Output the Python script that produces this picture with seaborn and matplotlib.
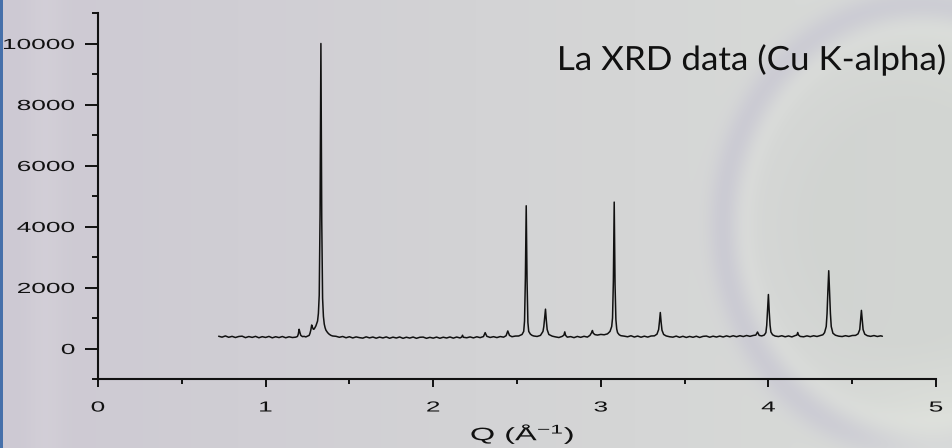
import numpy as np
import pandas as pd
import matplotlib
matplotlib.use("Agg")
import matplotlib.pyplot as plt
import seaborn as sns
from matplotlib import patheffects
from matplotlib.transforms import Affine2D
from matplotlib.ticker import MultipleLocator

# ---------------------------------------------------------------------------
# Powder pattern of La: momentum transfer Q (1/Angstrom) vs. detector counts
# ---------------------------------------------------------------------------
q_values = [
    0.72, 0.74, 0.76, 0.78, 0.80, 0.82, 0.84, 0.86, 0.88, 0.90, 0.92, 0.94,
    0.96, 0.98, 1.00, 1.02, 1.04, 1.06, 1.08, 1.10, 1.12, 1.14, 1.16,
    1.18, 1.19, 1.195, 1.20, 1.205, 1.21, 1.22, 1.23, 1.24, 1.25, 1.26, 1.265,
    1.27, 1.275, 1.28, 1.285, 1.29, 1.295, 1.30, 1.305, 1.31, 1.315, 1.32,
    1.325, 1.33, 1.335, 1.34, 1.345, 1.35, 1.355, 1.36, 1.37, 1.38, 1.39, 1.40,
    1.42, 1.44, 1.46, 1.48, 1.50, 1.52, 1.54, 1.56, 1.58, 1.60, 1.62, 1.64,
    1.66, 1.68, 1.70, 1.72, 1.74, 1.76, 1.78, 1.80, 1.82, 1.84, 1.86, 1.88,
    1.90, 1.92, 1.94, 1.96, 1.98, 2.00, 2.02, 2.04, 2.06, 2.08, 2.10, 2.12,
    2.14, 2.16,
    2.17, 2.175, 2.18, 2.20, 2.22, 2.24, 2.26, 2.28, 2.30, 2.31, 2.32, 2.34,
    2.36, 2.38, 2.40, 2.42, 2.435, 2.445, 2.455, 2.47, 2.49, 2.51, 2.53, 2.54,
    2.545, 2.55, 2.555, 2.56, 2.565, 2.57, 2.58, 2.59, 2.60,
    2.62, 2.64, 2.655, 2.66, 2.665, 2.67, 2.675, 2.68, 2.69, 2.71, 2.73, 2.75,
    2.77, 2.78, 2.785, 2.79, 2.80, 2.82, 2.84, 2.86, 2.88, 2.90, 2.92, 2.935,
    2.945, 2.95, 2.955, 2.965, 2.98, 3.00, 3.02, 3.04, 3.055, 3.065, 3.07,
    3.075, 3.08, 3.085, 3.09, 3.095, 3.10, 3.11, 3.12, 3.14,
    3.16, 3.18, 3.20, 3.22, 3.24, 3.26, 3.28, 3.30, 3.32, 3.335, 3.345, 3.35,
    3.355, 3.36, 3.365, 3.375, 3.39, 3.41, 3.43, 3.45, 3.47, 3.49, 3.51, 3.53,
    3.55, 3.57, 3.59, 3.61, 3.63, 3.65, 3.67, 3.69, 3.71, 3.73, 3.75, 3.77,
    3.79, 3.81, 3.83, 3.85, 3.87, 3.89, 3.91, 3.925,
    3.935, 3.945, 3.96, 3.975, 3.985, 3.99, 3.995, 4.00, 4.005, 4.01, 4.015,
    4.025, 4.04, 4.06, 4.08, 4.10, 4.12, 4.14, 4.16, 4.17, 4.175, 4.18, 4.19,
    4.21, 4.23, 4.25, 4.27, 4.29, 4.31, 4.325, 4.335, 4.345, 4.35, 4.355,
    4.36, 4.365, 4.37, 4.375, 4.385, 4.40, 4.42, 4.44, 4.46, 4.48, 4.50, 4.52,
    4.535, 4.545, 4.55, 4.555, 4.56, 4.565, 4.575, 4.59, 4.61, 4.63, 4.65,
    4.67, 4.68,
]

counts = [
    402, 372, 412, 368, 398, 360, 394, 404, 356, 392, 364, 398,
    352, 388, 362, 396, 350, 386, 358, 393, 352, 384, 360,
    372, 395, 470, 630, 520, 430, 390, 398, 380, 405, 430, 500,
    610, 770, 690, 630, 640, 690, 740, 820, 900, 1150, 1750,
    4400, 10000, 4200, 1650, 1050, 800, 680, 600, 520, 465, 430, 410,
    400, 368, 394, 352, 386, 346, 380, 356, 340, 382, 348, 376,
    338, 374, 346, 380, 336, 372, 344, 378, 334, 370, 342, 376,
    334, 368, 374, 334, 366, 340, 374, 336, 370, 344, 378, 340,
    376, 346,
    375, 435, 368, 352, 380, 348, 384, 356, 392, 520, 400, 362,
    388, 358, 392, 372, 420, 575, 430, 386, 408, 410, 460, 560,
    900, 2300, 4680, 2200, 850, 560, 470, 430, 410,
    395, 430, 560, 720, 1000, 1290, 920, 620, 460, 405, 380, 360,
    398, 440, 545, 430, 372, 390, 356, 396, 366, 400, 374, 430,
    520, 590, 500, 455, 440, 462, 450, 480, 560, 720, 1000,
    2200, 4800, 2100, 950, 640, 520, 450, 420, 405,
    384, 418, 376, 408, 370, 404, 374, 410, 415, 470, 620, 880,
    1180, 860, 600, 460, 412, 386, 372, 406, 366, 400, 362, 396,
    368, 402, 362, 398, 408, 370, 404, 376, 408, 378, 414, 384,
    418, 386, 420, 392, 426, 398, 428, 440,
    540, 430, 412, 440, 520, 760, 1250, 1770, 1200, 760, 540,
    450, 408, 392, 418, 384, 412, 380, 424, 440, 525, 440, 396,
    384, 414, 388, 418, 394, 426, 450, 520, 720, 1150, 1900,
    2550, 1850, 1150, 720, 500, 435, 404, 392, 420, 396, 426, 430,
    480, 620, 950, 1250, 930, 620, 470, 420, 398, 424, 394,
    416, 402,
]
assert len(q_values) == len(counts)

x_ticks = [0, 1, 2, 3, 4, 5]
y_ticks = [0, 2000, 4000, 6000, 8000, 10000]
x_limits = (0, 5)
y_limits = (-1000, 11000)
title_text = "La XRD data (Cu K-alpha)"
x_label = r"Q (Å$^{\mathrm{-1}}$)"


class HorizontalStretch(patheffects.AbstractPathEffect):
    """Draw a text path widened horizontally about a pivot of its ink box."""

    def __init__(self, factor, pivot=0.5):
        super().__init__()
        self.factor = factor
        self.pivot = pivot

    def draw_path(self, renderer, gc, tpath, affine, rgbFace=None):
        ext = tpath.get_extents()
        px = ext.x0 + self.pivot * ext.width
        widen = Affine2D().translate(-px, 0).scale(self.factor, 1.0).translate(px, 0)
        renderer.draw_path(gc, tpath, widen + affine, rgbFace)


sns.set_style("ticks")
plt.rcParams["font.family"] = ["Liberation Sans", "DejaVu Sans"]
plt.rcParams["mathtext.fontset"] = "custom"
plt.rcParams["mathtext.rm"] = "Liberation Sans"
plt.rcParams["mathtext.it"] = "Liberation Sans:italic"

W, H = 953, 448
fig = plt.figure(figsize=(W / 100, H / 100), dpi=100)

# soft slide backdrop: lavender-grey to pale grey-green with a faint violet arc
yy, xx = np.mgrid[0:H, 0:W].astype(float)
left_c = np.array([205, 201, 211]) / 255
mid_c = np.array([211, 211, 213]) / 255
right_c = np.array([217, 220, 216]) / 255
t = (xx / (W - 1))[..., None]
bg = np.where(t < 0.5,
              left_c + (mid_c - left_c) * (t / 0.5),
              mid_c + (right_c - mid_c) * ((t - 0.5) / 0.5))
streak = np.exp(-((xx - 45) / 18) ** 2)[..., None] * 0.5
bg = bg + (np.array([215, 211, 219]) / 255 - bg) * streak
# elliptical ring, centred off to the right
d = np.hypot((xx - 920) / 1.0, (yy - 225) / 1.12)
inside = (np.clip((185 - d) / 80, 0, 1) * 0.35)[..., None]
bg = bg + (np.array([199, 202, 200]) / 255 - bg) * inside
rim = (np.exp(-((d - 175) / 10) ** 2) * 0.25)[..., None]
bg = bg + (np.array([228, 230, 226]) / 255 - bg) * rim
band = (np.exp(-((d - 198) / 15) ** 2) * 0.35)[..., None]
bg = bg + (np.array([184, 180, 206]) / 255 - bg) * band
glow = (np.exp(-(((xx - 940) / 70) ** 2 + ((yy - 440) / 60) ** 2)) * 0.5)[..., None]
bg = bg + (np.array([226, 229, 222]) / 255 - bg) * glow
bg[:, :3] = np.array([70, 112, 170]) / 255
bg_ax = fig.add_axes([0, 0, 1, 1], zorder=-10)
bg_ax.imshow(np.clip(bg, 0, 1), extent=[0, W, H, 0], aspect="auto",
             interpolation="bilinear")
bg_ax.set_axis_off()

ax = fig.add_axes([98 / W, 69 / H, 838 / W, 366 / H])
ax.set_facecolor("none")

df = pd.DataFrame({"Q": q_values, "Intensity": counts})
sns.lineplot(data=df, x="Q", y="Intensity", ax=ax, color="#111111",
             linewidth=1.1, estimator=None, sort=False, legend=False)

ax.set_xlim(*x_limits)
ax.set_ylim(*y_limits)
ax.set_xticks(x_ticks)
ax.set_yticks(y_ticks)
ax.set_xticklabels([str(v) for v in x_ticks])
ax.set_yticklabels([str(v) for v in y_ticks])
ax.xaxis.set_minor_locator(MultipleLocator(0.5))
ax.yaxis.set_minor_locator(MultipleLocator(1000))

for side in ["top", "right"]:
    ax.spines[side].set_visible(False)
for side in ["left", "bottom"]:
    ax.spines[side].set_linewidth(1.5)
    ax.spines[side].set_color("#111111")

ax.tick_params(axis="y", which="major", length=9.5, width=1.4, pad=7,
               labelsize=10.5, colors="#111111", direction="out")
ax.tick_params(axis="y", which="minor", length=4.5, width=1.4,
               colors="#111111", direction="out")
ax.tick_params(axis="x", which="major", length=6, width=1.4, pad=9.5,
               labelsize=10.5, colors="#111111", direction="out")
ax.tick_params(axis="x", which="minor", length=3.4, width=1.4,
               colors="#111111", direction="out")

ax.set_ylabel("")
ax.set_xlabel(x_label, fontsize=13, color="#111111")
ax.xaxis.set_label_coords(0.5066, -0.118)
ax.xaxis.label.set_path_effects([HorizontalStretch(1.8, 0.5)])

for lbl in ax.get_xticklabels():
    lbl.set_path_effects([HorizontalStretch(1.8, 0.5)])
for lbl in ax.get_yticklabels():
    lbl.set_path_effects([HorizontalStretch(1.8, 1.0)])

title = fig.text(557 / W, 1 - 70 / H, title_text,
                 fontfamily=["Lato", "DejaVu Sans"], fontsize=24,
                 ha="left", va="baseline", color="#111111")
title.set_path_effects([HorizontalStretch(1.05, 0.0)])

fig.savefig("out.png", dpi=100)
